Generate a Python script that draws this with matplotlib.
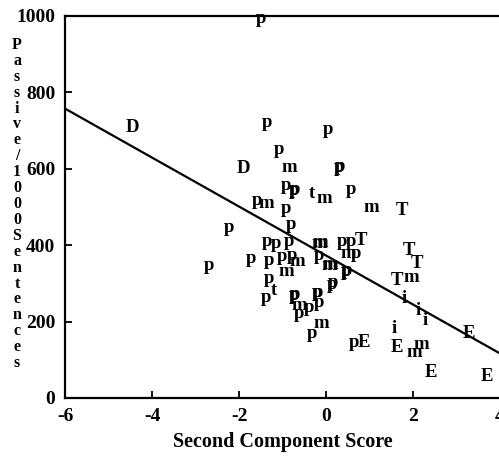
import numpy as np
import matplotlib.pyplot as plt

plt.rcParams['font.family'] = ['Liberation Serif', 'DejaVu Serif']
plt.rcParams['axes.unicode_minus'] = False

# genre letter, second component score, passives per 1000 sentences
genre = ['p', 'D', 'p', 'p', 'p', 'D', 'm', 'p', 'p',
         'p', 'p', 'p', 't', 'm', 'p', 'm', 'T',
         'p', 'm', 'p', 'p', 'p',
         'p', 'p', 'p', 'm', 'm', 'p', 'p', 'T',
         'm', 'p', 'p', 'm', 'm', 'p', 'p', 'p', 'p',
         'p', 'p', 'p', 'p', 'p', 'm', 'm', 'p',
         'p', 't', 'p', 'p', 'p', 'p', 'm', 'p', 'p', 'p',
         'm', 'p', 'p', 'E',
         'T', 'T', 'T', 'm', 'i', 'i', 'i', 'i',
         'E', 'E', 'm', 'm', 'E', 'E']
comp2 = [-1.49, -4.44, -1.36, 0.05, -1.08, -1.89, -0.85, 0.30, 0.32,
         -0.92, -0.74, -0.72, -0.32, -0.05, 0.57, 1.03, 1.75,
         -1.59, -1.38, -0.92, -2.23, -0.80,
         -1.36, -1.15, -0.85, -0.16, -0.14, 0.37, 0.57, 0.80,
         0.51, 0.69, -0.16, 0.07, 0.09, 0.46, 0.48, 0.14, 0.15,
         -1.72, -2.69, -1.31, -1.01, -0.78, -0.67, -0.92, -1.31,
         -1.38, -1.20, -0.74, -0.72, -0.21, -0.19, -0.62, -0.39, -0.16, -0.62,
         -0.11, -0.32, 0.64, 0.87,
         1.91, 2.09, 1.63, 1.95, 1.79, 2.11, 2.28, 1.56,
         3.29, 1.63, 2.18, 2.02, 2.41, 3.70]
passive = [993, 708, 722, 703, 651, 601, 604, 604, 606,
           557, 544, 546, 536, 523, 546, 499, 492,
           518, 510, 497, 447, 455,
           410, 405, 410, 405, 406, 410, 410, 413,
           379, 379, 374, 348, 350, 332, 333, 298, 303,
           366, 348, 361, 371, 374, 358, 332, 314,
           264, 282, 269, 271, 275, 277, 243, 238, 251, 222,
           196, 170, 144, 144,
           387, 353, 308, 316, 261, 230, 204, 183,
           170, 133, 139, 118, 68, 55]

# fitted regression line
intercept = 373
slope = -64.1

ylabel_chars = list('Passive') + ['/'] + list('1000') + list('Sentences')

fig = plt.figure(figsize=(4.99, 4.57), dpi=100)
ax = fig.add_axes([65 / 499, 59 / 457, 435 / 499, 382 / 457])

for g, x, y in zip(genre, comp2, passive):
    ax.text(x, y, g, ha='center', va='center', fontsize=13.5, fontweight='bold')

xs = np.array([-6, 4])
ax.plot(xs, intercept + slope * xs, color='black', lw=1.6)

ax.set_xlim(-6, 4)
ax.set_ylim(0, 1000)
ax.set_xticks([-6, -4, -2, 0, 2, 4])
ax.set_yticks([0, 200, 400, 600, 800, 1000])
ax.tick_params(direction='in', length=5, width=1.3, labelsize=14, pad=7)
for lbl in ax.get_xticklabels() + ax.get_yticklabels():
    lbl.set_fontweight('bold')
ax.spines['right'].set_visible(False)
for s in ['left', 'bottom', 'top']:
    ax.spines[s].set_linewidth(1.6)
ax.set_xlabel('Second Component Score', fontsize=14.5, fontweight='bold', labelpad=5)

# vertical stacked y label
y0 = 457 - 45
step = (363 - 45) / (len(ylabel_chars) - 1)
for i, ch in enumerate(ylabel_chars):
    fig.text(17 / 499, (y0 - i * step) / 457, ch, ha='center', va='center',
             fontsize=11.5, fontweight='bold')

fig.savefig('out.png', dpi=100)
